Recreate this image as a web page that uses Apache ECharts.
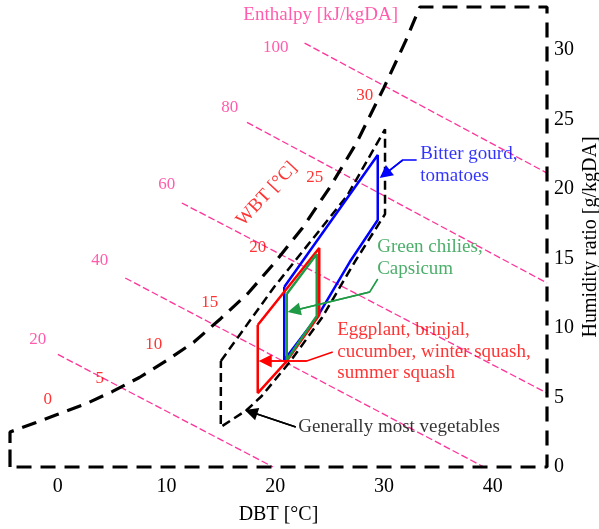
<!DOCTYPE html>
<html>
<head>
<meta charset="utf-8">
<script src="https://cdn.jsdelivr.net/npm/echarts@6/dist/echarts.min.js"></script>
<style>html,body{margin:0;padding:0;background:#fff}#c{width:599px;height:529px}</style>
</head>
<body>
<div id="c"></div>
<script>
// ---- data ----
const xTicks = [0, 10, 20, 30, 40];
const yTicks = [0, 5, 10, 15, 20, 25, 30];
// saturation curve: DBT [°C] vs humidity ratio [g/kgDA]
const satT = [-4.4, -2, 0, 2.5, 5, 7.5, 10, 12.5, 15, 17.5, 20, 22.5, 25, 27.5, 30, 32, 33.3];
const satW = [2.52, 3.2, 3.79, 4.52, 5.42, 6.44, 7.66, 8.98, 10.69, 12.5, 14.75, 17.2, 20.1, 23.35, 27.3, 30.66, 33.1];
// chart frame corners
const frameT = [45, 45, -4.4, -4.4];
const frameW = [33.1, 0, 0, 2.52];
// enthalpy lines
const enthValues = [20, 40, 60, 80, 100];
const enthStart = [[0, 8.1], [6.2, 13.6], [11.4, 19.0], [17.4, 24.8], [22.7, 30.5]];
const enthEnd = [[19.8, 0], [39.2, 0], [45, 5.32], [45, 13.24], [45, 21.15]];
const enthLabelPos = [[-1.84, 9.14], [3.86, 14.89], [10.02, 20.29], [15.82, 25.9], [20.05, 30.2]];
// wet bulb labels
const wbtValues = [0, 5, 10, 15, 20, 25, 30];
const wbtLabelPos = [[-0.92, 4.82], [3.86, 6.40], [8.83, 8.78], [13.98, 11.87], [18.39, 15.76], [23.63, 20.86], [28.23, 26.76]];
// storage zones
const generalZone = [[15.0, 7.63], [19.9, 12.95], [26.6, 19.5], [30.1, 24.3], [30.1, 18.2], [27.31, 14.75], [24.28, 10.72], [21.33, 7.55], [18.76, 5.11], [17.38, 4.10], [14.99, 2.88], [15.0, 7.63]];
const bitterZone = [[20.83, 12.95], [29.43, 22.45], [29.43, 17.77], [26.85, 14.75], [23.91, 10.86], [20.83, 7.70], [20.83, 12.95]];
const eggplantZone = [[18.39, 10.22], [24.05, 15.76], [24.05, 10.94], [21.06, 7.62], [18.39, 5.32], [18.39, 10.22]];
const chiliZone = [[21.06, 12.45], [23.82, 15.32], [23.82, 10.86], [21.06, 7.70], [21.06, 12.45]];
// annotation arrows (start ... arrow-head centre)
const bitterArrow = [[33.01, 22.09], [31.72, 22.09], [30.08, 21.08]];
const chiliArrow = [[29.43, 13.53], [28.69, 12.59], [21.73, 11.26]];
const eggplantArrow = [[25.29, 8.27], [22.9, 7.63], [19.08, 7.63]];
const generalArrow = [[21.89, 2.88], [17.77, 3.95]];
// annotation texts
const bitterText = 'Bitter gourd,\ntomatoes';
const chiliText = 'Green chilies,\nCapsicum';
const eggplantText = 'Eggplant, brinjal,\ncucumber, winter squash,\nsummer squash';
const generalText = 'Generally most vegetables';
const bitterTextPos = [33.3, 21.7];
const chiliTextPos = [29.33, 15.04];
const eggplantTextPos = [25.66, 8.30];
const generalTextPos = [22.07, 2.88];
const enthTitle = 'Enthalpy [kJ/kgDA]';
const enthTitlePos = [24.18, 32.52];
const wbtTitle = 'WBT [°C]';
const wbtTitlePos = [19.22, 19.64];

// ---- styles ----
const FONT = 'Liberation Serif';
const PINK = '#ff3399', RED = '#ff0000', BLUE = '#0000ff', GREEN = '#1f9a45';

const envelope = [[frameT[3], 0]].concat(satT.map((t, i) => [t, satW[i]]))
  .concat(frameT.map((t, i) => [t, frameW[i]]));

function zone(data, color, dashed) {
  return {
    type: 'line', data: data, showSymbol: false, symbol: 'none', silent: true, clip: false,
    lineStyle: dashed ? {color: color, width: 2.5, type: [9, 5]} : {color: color, width: 2.5},
    z: 4
  };
}
function arrow(coords, color) {
  const n = coords.length;
  return [
    {
      type: 'lines', coordinateSystem: 'cartesian2d', polyline: true, silent: true,
      data: [{coords: coords}],
      lineStyle: {color: color, width: 1.6, opacity: 1}, z: 6
    },
    {
      type: 'lines', coordinateSystem: 'cartesian2d', silent: true,
      data: [{coords: [coords[n - 2], coords[n - 1]]}],
      lineStyle: {color: color, width: 1.6, opacity: 1},
      symbol: ['none', 'triangle'], symbolSize: [9, 13], z: 6
    }
  ];
}
function textMark(pos, text, color, opts) {
  return {
    type: 'scatter', silent: true, symbolSize: 1, itemStyle: {color: 'transparent'},
    data: [pos], z: 7,
    label: Object.assign({
      show: true, position: 'right', distance: 0, formatter: text, color: color,
      fontFamily: FONT, fontSize: 19, lineHeight: 22
    }, opts || {})
  };
}
function numberLabels(pos, values, color) {
  return {
    type: 'scatter', silent: true, symbolSize: 1, itemStyle: {color: 'transparent'},
    data: pos.map((p, i) => ({value: p, name: String(values[i])})), z: 7,
    label: {show: true, position: 'inside', formatter: '{b}', color: color, fontFamily: FONT, fontSize: 17}
  };
}

const chart = echarts.init(document.getElementById('c'), null, {renderer: 'canvas'});
chart.setOption({
  animation: false,
  backgroundColor: '#fff',
  grid: {left: 10, right: 52, top: 7, bottom: 62, containLabel: false, outerBoundsMode: 'none'},
  xAxis: {
    type: 'value', min: -4.4, max: 45,
    axisLine: {show: false}, axisTick: {show: false}, splitLine: {show: false},
    axisLabel: {customValues: xTicks, fontFamily: FONT, fontSize: 20, color: '#000', margin: 10},
    name: 'DBT [°C]', nameLocation: 'middle', nameGap: 38, nameMoveOverlap: false,
    nameTextStyle: {fontFamily: FONT, fontSize: 20, color: '#000'}
  },
  yAxis: {
    type: 'value', position: 'right', min: 0, max: 33.1,
    axisLine: {show: false}, axisTick: {show: false}, splitLine: {show: false},
    axisLabel: {customValues: yTicks, fontFamily: FONT, fontSize: 20, color: '#000', margin: 7},
    name: 'Humidity ratio [g/kgDA]', nameLocation: 'middle', nameGap: 34, nameRotate: 90,
    nameMoveOverlap: false,
    nameTextStyle: {fontFamily: FONT, fontSize: 20, color: '#000'}
  },
  series: [
    {
      type: 'lines', coordinateSystem: 'cartesian2d', silent: true,
      data: enthStart.map((s, i) => ({coords: [s, enthEnd[i]]})),
      lineStyle: {color: PINK, width: 1.3, type: [7, 3], opacity: 1}, z: 2
    },
    {
      type: 'line', data: envelope, showSymbol: false, symbol: 'none', silent: true, clip: false,
      lineStyle: {color: '#000', width: 3.2, type: [15, 9]}, z: 3
    },
    zone(generalZone, '#000', true),
    zone(bitterZone, BLUE),
    zone(eggplantZone, RED),
    zone(chiliZone, GREEN),
    ...arrow(bitterArrow, BLUE),
    ...arrow(chiliArrow, GREEN),
    ...arrow(eggplantArrow, RED),
    ...arrow(generalArrow, '#000'),
    textMark(bitterTextPos, bitterText, BLUE),
    textMark(chiliTextPos, chiliText, GREEN),
    textMark(eggplantTextPos, eggplantText, RED, {lineHeight: 21.5}),
    textMark(generalTextPos, generalText, '#000'),
    textMark(enthTitlePos, enthTitle, PINK, {position: 'inside'}),
    textMark(wbtTitlePos, wbtTitle, RED, {position: 'inside', rotate: 47}),
    numberLabels(enthLabelPos, enthValues, PINK),
    numberLabels(wbtLabelPos, wbtValues, RED)
  ]
});
</script>
</body>
</html>
